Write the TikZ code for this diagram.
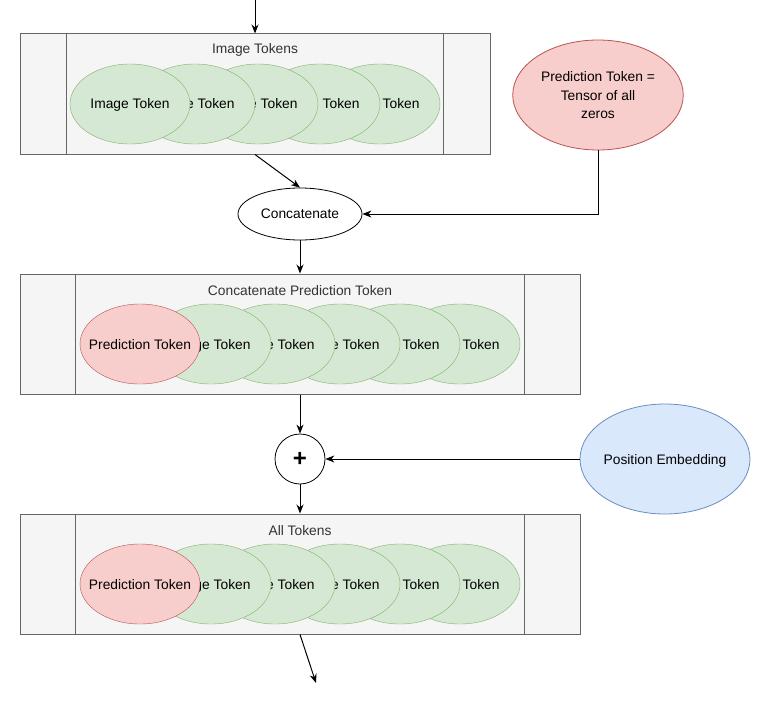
\documentclass[tikz,border=0pt]{standalone}
\usepackage{fontspec}
\setmainfont{Liberation Sans}
\usetikzlibrary{positioning, arrows.meta, shapes.geometric}
\definecolor{boxGrey}{HTML}{F5F5F5}
\definecolor{boxLine}{HTML}{666666}
\definecolor{titleGrey}{HTML}{333333}
\definecolor{tokGreen}{HTML}{D5E8D4}
\definecolor{tokGreenLine}{HTML}{82B366}
\definecolor{predRed}{HTML}{F8CECC}
\definecolor{predRedLine}{HTML}{B85450}
\definecolor{posBlue}{HTML}{DAE8FC}
\definecolor{posBlueLine}{HTML}{6C8EBF}

\begin{document}
\begin{tikzpicture}[x=1pt, y=-1pt, font=\fontsize{13.8}{16}\selectfont, every node/.style={align=center, text depth=0pt},
    tokbox/.style={draw=boxLine, fill=boxGrey, line width=1pt, minimum height=120pt, inner sep=0pt},
    boxline/.style={draw=boxLine, line width=1pt},
    boxtitle/.style={text=titleGrey},
    imgtok/.style={ellipse, draw=tokGreenLine, fill=tokGreen, minimum width=120pt, minimum height=80pt, inner xsep=-20pt, inner ysep=0pt},
    predtok/.style={imgtok, draw=predRedLine, fill=predRed},
    arr/.style={-{Stealth[length=9pt, width=7pt]}, line width=1pt}]
    \useasboundingbox (0,0) rectangle (761,701);

    % image tokens
    \node[tokbox, minimum width=470pt] (imgbox) at (255,94) {};
    \draw[boxline] ([xshift=47pt]imgbox.north west) -- ([xshift=47pt]imgbox.south west);
    \draw[boxline] ([xshift=-47pt]imgbox.north east) -- ([xshift=-47pt]imgbox.south east);
    \node[boxtitle] (imgtitle) at ([yshift=-15pt]imgbox.north) {Image Tokens};
    \foreach \cx [count=\i] in {380,320,258,195,130}
      \node[imgtok] (img\i) at (\cx,104) {Image Token};

    \node[ellipse, draw=predRedLine, fill=predRed, line width=0.8pt, minimum width=170pt, minimum height=110pt, font=\fontsize{13.8}{18.5}\selectfont] (zeros) at (598,95) {Prediction Token =\\Tensor of all\\zeros};
    \node[ellipse, draw, fill=white, line width=0.8pt, minimum width=124pt, minimum height=52pt] (concat) at (300,214) {Concatenate};

    % concatenated tokens
    \node[tokbox, minimum width=560pt] (catbox) at (300,334) {};
    \draw[boxline] ([xshift=56pt]catbox.north west) -- ([xshift=56pt]catbox.south west);
    \draw[boxline] ([xshift=-56pt]catbox.north east) -- ([xshift=-56pt]catbox.south east);
    \node[boxtitle] (cattitle) at ([yshift=-17pt]catbox.north) {Concatenate Prediction Token};
    \foreach \cx [count=\i] in {460,400,340,275,211}
      \node[imgtok] (cat\i) at (\cx,344) {Image Token};
    \node[predtok] (catpred) at (140,344) {Prediction Token};

    \node[circle, draw, fill=white, line width=0.8pt, minimum size=50pt, inner sep=0pt, font=\fontsize{24}{24}\selectfont\bfseries] (plus) at (300,459) {+};
    \node[ellipse, draw=posBlueLine, fill=posBlue, line width=0.8pt, minimum width=170pt, minimum height=110pt, inner xsep=-20pt] (posemb) at (665,459) {Position Embedding};

    % all tokens
    \node[tokbox, minimum width=560pt] (allbox) at (300,574) {};
    \draw[boxline] ([xshift=56pt]allbox.north west) -- ([xshift=56pt]allbox.south west);
    \draw[boxline] ([xshift=-56pt]allbox.north east) -- ([xshift=-56pt]allbox.south east);
    \node[boxtitle] (alltitle) at ([yshift=-17pt]allbox.north) {All Tokens};
    \foreach \cx [count=\i] in {460,400,340,275,211}
      \node[imgtok] (all\i) at (\cx,584) {Image Token};
    \node[predtok] (allpred) at (140,584) {Prediction Token};

    \coordinate (input) at (255,0);
    \coordinate (output) at (316,683);
    \draw[arr] (input) -- (imgbox.north);
    \draw[arr] (imgbox.south) -- (concat.north);
    \draw[arr] (zeros.south) |- (concat.east);
    \draw[arr] (concat.south) -- (catbox.north);
    \draw[arr] (catbox.south) -- (plus.north);
    \draw[arr] (posemb.west) -- (plus.east);
    \draw[arr] (plus.south) -- (allbox.north);
    \draw[arr] (allbox.south) -- (output);
\end{tikzpicture}
\end{document}
